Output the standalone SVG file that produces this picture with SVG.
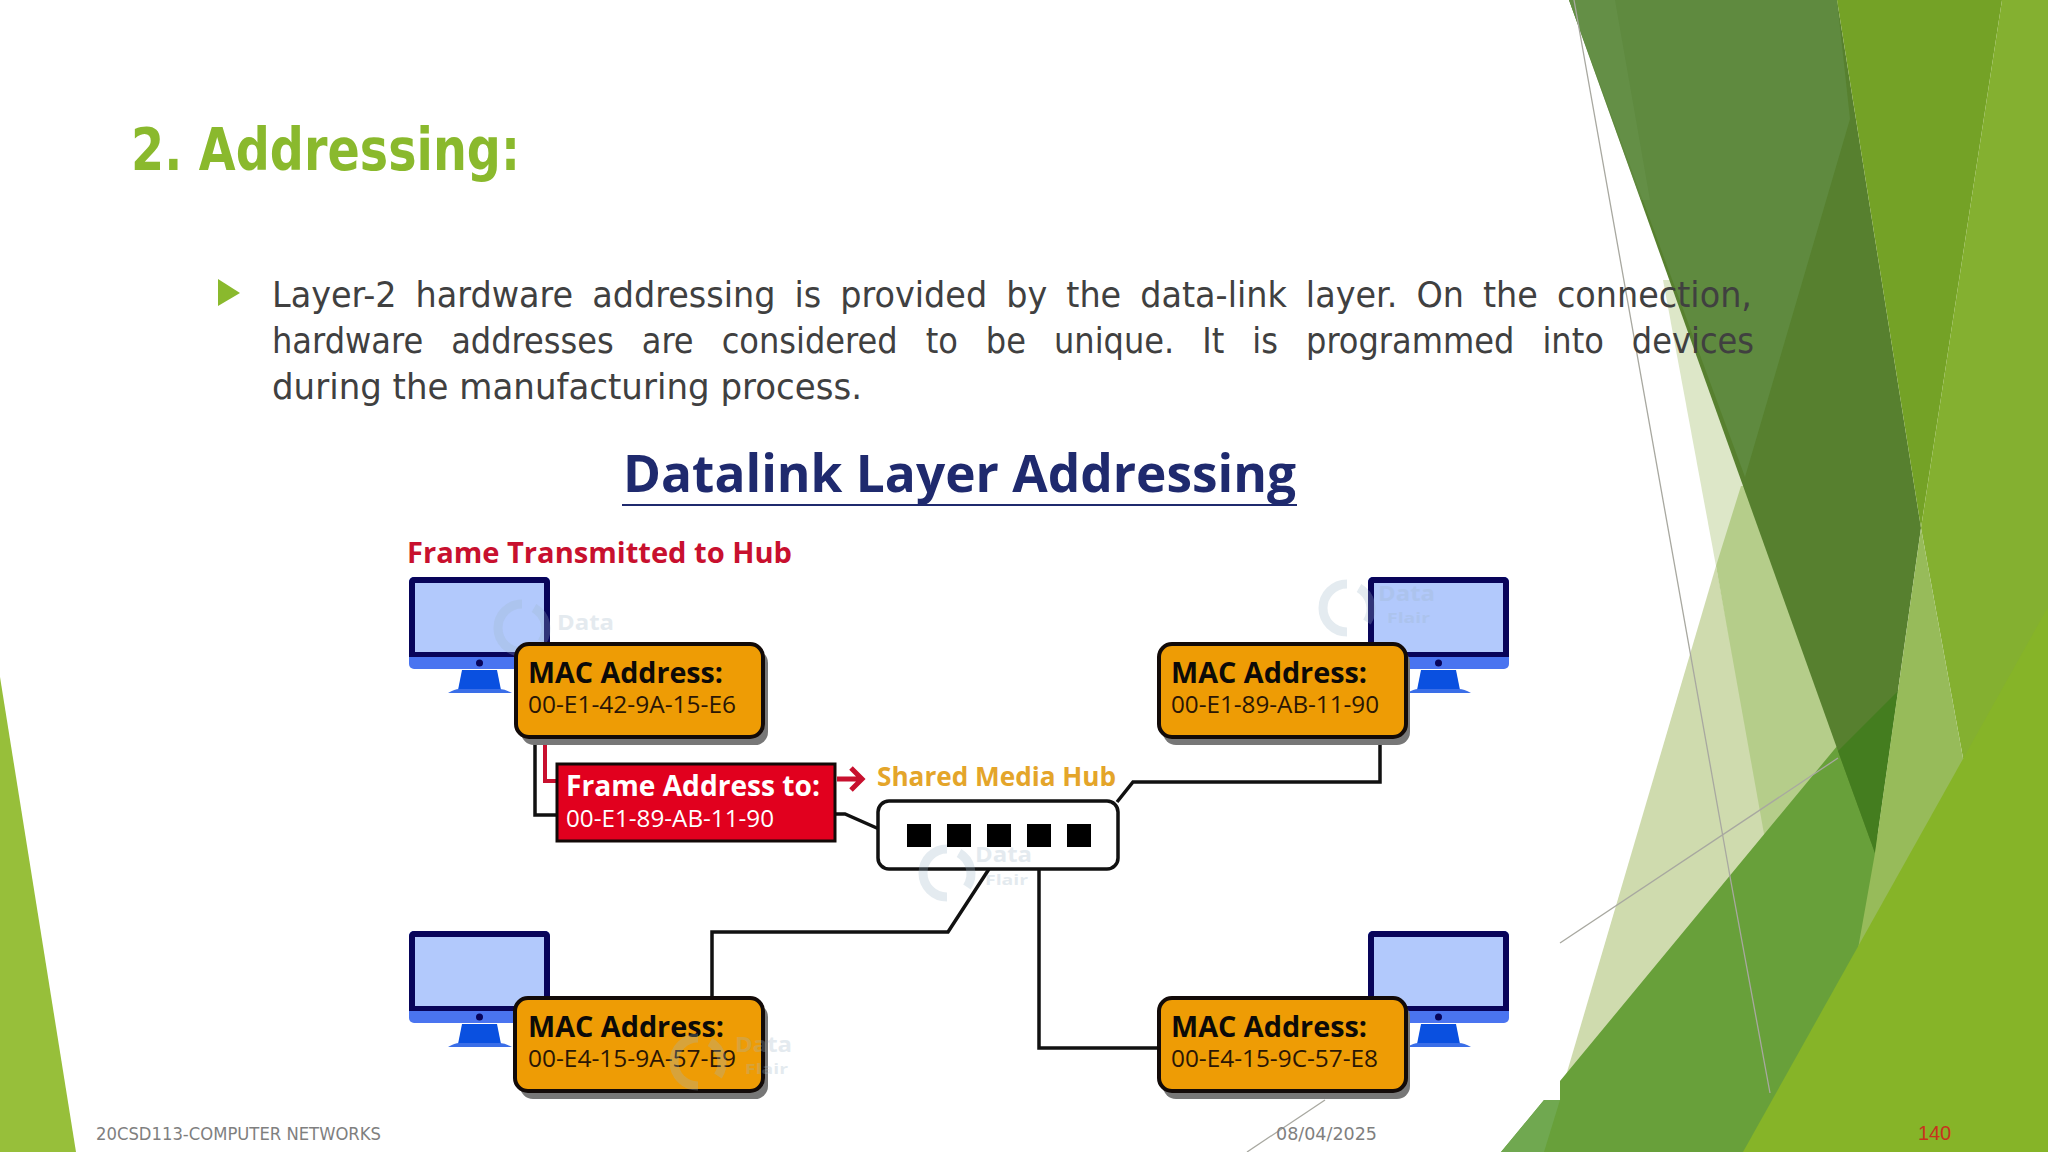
<svg xmlns="http://www.w3.org/2000/svg" xmlns:xlink="http://www.w3.org/1999/xlink" width="2048" height="1152" viewBox="0 0 2048 1152">
<style>
.body{font-family:"DejaVu Sans","Liberation Sans",sans-serif;font-size:36px;fill:#404040}
.foot{font-family:"DejaVu Sans","Liberation Sans",sans-serif;font-size:18px;fill:#7f7f7f}
.b{font-family:"Open Sans","Noto Sans",sans-serif;font-weight:700}
.m{font-family:"Open Sans","Noto Sans",sans-serif;font-weight:400}
.mac{font-size:28px;fill:#0c0a08}
.addr{font-size:24px;fill:#2a1605}
.box{fill:#ee9c05;stroke:#120a08;stroke-width:4}
.shadow{fill:#777}
.wire{fill:none;stroke:#111;stroke-width:3.5}
.wm{font-family:"Open Sans","Noto Sans",sans-serif;font-weight:700;fill:#9fb6c8;opacity:.28}
.wl{fill:none;stroke:#9fb6c8;stroke-width:9;opacity:.28}
.thin{fill:none;stroke:#a8a8a0;stroke-width:1.3}
</style>
<defs>
<g id="pc">
<rect x="0" y="0" width="141" height="92" rx="5" fill="#4a74f0"/>
<path d="M0 80V5a5 5 0 0 1 5-5H136a5 5 0 0 1 5 5V80Z" fill="#08045a"/>
<rect x="6" y="6" width="129" height="69" fill="#b2c9fc"/>
<path d="M53 93H88L92 113H49Z" fill="#0a50e0"/>
<path d="M39 116Q46 112 50 112H91Q96 112 103 116Z" fill="#3a6ee8"/>
<circle cx="70.500" cy="86" r="3.500" fill="#08045a"/>
</g>
<g id="logo">
<path class="wl" d="M0 -24A24 24 0 0 0 0 24"/>
<path class="wl" d="M12 -20A24 24 0 0 1 20 14"/>
</g>
</defs>
<rect width="2048" height="1152" fill="#fff"/>
<g id="decor">
<polygon points="0,677 0,1152 76,1152" fill="#97bf3a"/>
<polygon points="1663,280 1716,566 1770,486 1700,280" fill="#dde7c8"/>
<polygon points="1716,566 1770,850 1565,1079" fill="#cfdbae"/>
<polygon points="1741,486 1716,566 1766,845 1850,758 1770,486" fill="#b5cd8a"/>
<polygon points="1838,745 1885,853 1870,945 1760,1152 1501,1152 1544,1100 1560,1100 1560,1081" fill="#68a03a"/>
<polygon points="1569,0 1837,0 1921,528 1875,853 1838,751" fill="#57802f"/>
<polygon points="1569,0 1837,0 1850,119 1745,477" fill="#5f8a3f"/>
<polygon points="1569,0 1615,0 1650,200 1641,200" fill="#6a9450" opacity=".45"/>
<polygon points="1838,751 1898,691 1875,853" fill="#447d1f"/>
<polygon points="1837,0 2002,0 1921,528" fill="#74a226"/>
<polygon points="1544,1100 1560,1100 1544,1152 1501,1152" fill="#70a850"/>
<polygon points="2002,0 2048,0 2048,620 1970,770 1963,758 1921,528" fill="#84b030"/>
<polygon points="1921,528 1963,758 1970,770 1856,960 1875,853" fill="#97bb5a"/>
<polygon points="1743,1152 2048,607 2048,1152" fill="#86b428"/>
<path class="thin" d="M1574 0L1731 882L1770 1093"/>
<path class="thin" d="M1560 943L1838 758"/>
<path class="thin" d="M1325 1100L1247 1152"/>
</g>
<g id="slide-text">
<text id="title" x="131" y="170" font-family="DejaVu Sans,Liberation Sans,sans-serif" font-weight="700" font-size="58" fill="#8ab92d" textLength="389" lengthAdjust="spacingAndGlyphs">2. Addressing:</text>
<polygon points="218,279 240,293 218,306" fill="#8ab92d"/>
<text class="body" x="272" y="307" word-spacing="9" textLength="1480" lengthAdjust="spacingAndGlyphs">Layer-2 hardware addressing is provided by the data-link layer. On the connection,</text>
<text class="body" x="272" y="353" word-spacing="20" textLength="1482" lengthAdjust="spacingAndGlyphs">hardware addresses are considered to be unique. It is programmed into devices</text>
<text class="body" x="272" y="399" textLength="590" lengthAdjust="spacingAndGlyphs">during the manufacturing process.</text>
<text class="b" x="623" y="492" font-size="52" fill="#1f2a6e" textLength="673" lengthAdjust="spacingAndGlyphs">Datalink Layer Addressing</text>
<rect x="622" y="504" width="675" height="2" fill="#1f2a6e"/>
<text class="b" x="407" y="563" font-size="29" fill="#c8102e" textLength="385" lengthAdjust="spacingAndGlyphs">Frame Transmitted to Hub</text>
<text class="b" x="877" y="786" font-size="27" fill="#e4a52a" textLength="239" lengthAdjust="spacingAndGlyphs">Shared Media Hub</text>
<text class="foot" x="96" y="1140" textLength="285" lengthAdjust="spacingAndGlyphs">20CSD113-COMPUTER NETWORKS</text>
<text class="foot" x="1276" y="1140" textLength="101" lengthAdjust="spacingAndGlyphs">08/04/2025</text>
<text x="1918" y="1140" font-family="Liberation Sans,sans-serif" font-size="20" fill="#c8321e" textLength="33">140</text>
</g>
<g id="connectors">
<path class="wire" d="M535 737V815H558"/>
<path d="M545 737V781H558" fill="none" stroke="#c8102e" stroke-width="4"/>
<path d="M837 779H861M851 768L862 779L851 790" fill="none" stroke="#c8102e" stroke-width="5"/>
<path class="wire" d="M836 814H845L879 829"/>
<path class="wire" d="M1380 737V782H1133L1117 802"/>
<path class="wire" d="M712 997V932H948L989 869"/>
<path class="wire" d="M1039 869V1048H1158"/>
</g>
<g id="pc-top-left"><use xlink:href="#pc" href="#pc" x="409" y="577"/></g>
<g id="pc-top-right"><use xlink:href="#pc" href="#pc" x="1368" y="577"/></g>
<g id="pc-bottom-left"><use xlink:href="#pc" href="#pc" x="409" y="931"/></g>
<g id="pc-bottom-right"><use xlink:href="#pc" href="#pc" x="1368" y="931"/></g>
<g id="wm-top-left">
<use href="#logo" x="522" y="628"/>
<text class="wm" x="557" y="630" font-size="21" textLength="57" lengthAdjust="spacingAndGlyphs">Data</text>
</g>
<g id="wm-top-right">
<use href="#logo" x="1347" y="608"/>
<text class="wm" x="1378" y="601" font-size="21" textLength="57" lengthAdjust="spacingAndGlyphs">Data</text>
<text class="wm" x="1387" y="623" font-size="15" textLength="43" lengthAdjust="spacingAndGlyphs">Flair</text>
</g>
<g id="mac-top-left">
<rect class="shadow" x="521" y="650" width="247" height="95" rx="13"/>
<rect class="box" x="516" y="644" width="247" height="93" rx="13"/>
<text class="b mac" x="528" y="683" textLength="195" lengthAdjust="spacingAndGlyphs">MAC Address:</text>
<text class="m addr" x="528" y="713" textLength="208" lengthAdjust="spacingAndGlyphs">00-E1-42-9A-15-E6</text>
</g>
<g id="mac-top-right">
<rect class="shadow" x="1163" y="650" width="247" height="95" rx="13"/>
<rect class="box" x="1159" y="644" width="247" height="93" rx="13"/>
<text class="b mac" x="1171" y="683" textLength="196" lengthAdjust="spacingAndGlyphs">MAC Address:</text>
<text class="m addr" x="1171" y="713" textLength="208" lengthAdjust="spacingAndGlyphs">00-E1-89-AB-11-90</text>
</g>
<g id="frame-address">
<rect x="557" y="764" width="278" height="77" fill="#e1001e" stroke="#120a08" stroke-width="3"/>
<text class="b" x="566" y="796" font-size="28" fill="#fff" textLength="254" lengthAdjust="spacingAndGlyphs">Frame Address to:</text>
<text class="m" x="566" y="827" font-size="24" fill="#fff" textLength="208" lengthAdjust="spacingAndGlyphs">00-E1-89-AB-11-90</text>
</g>
<g id="hub">
<rect x="878" y="801" width="240" height="68" rx="11" fill="#fff" stroke="#111" stroke-width="3.500"/>
<rect x="907" y="824" width="24" height="23" fill="#000"/>
<rect x="947" y="824" width="24" height="23" fill="#000"/>
<rect x="987" y="824" width="24" height="23" fill="#000"/>
<rect x="1027" y="824" width="24" height="23" fill="#000"/>
<rect x="1067" y="824" width="24" height="23" fill="#000"/>
</g>
<g id="wm-hub">
<use href="#logo" x="947" y="873"/>
<text class="wm" x="975" y="862" font-size="21" textLength="57" lengthAdjust="spacingAndGlyphs">Data</text>
<text class="wm" x="985" y="885" font-size="15" textLength="43" lengthAdjust="spacingAndGlyphs">Flair</text>
</g>
<g id="mac-bottom-left">
<rect class="shadow" x="520" y="1004" width="248" height="95" rx="13"/>
<rect class="box" x="515" y="998" width="248" height="93" rx="13"/>
<text class="b mac" x="528" y="1037" textLength="196" lengthAdjust="spacingAndGlyphs">MAC Address:</text>
<text class="m addr" x="528" y="1067" textLength="208" lengthAdjust="spacingAndGlyphs">00-E4-15-9A-57-E9</text>
<use href="#logo" x="698" y="1062"/>
<text class="wm" x="735" y="1052" font-size="21" textLength="57" lengthAdjust="spacingAndGlyphs">Data</text>
<text class="wm" x="745" y="1074" font-size="15" textLength="43" lengthAdjust="spacingAndGlyphs">Flair</text>
</g>
<g id="mac-bottom-right">
<rect class="shadow" x="1163" y="1004" width="247" height="95" rx="13"/>
<rect class="box" x="1159" y="998" width="247" height="93" rx="13"/>
<text class="b mac" x="1171" y="1037" textLength="196" lengthAdjust="spacingAndGlyphs">MAC Address:</text>
<text class="m addr" x="1171" y="1067" textLength="207" lengthAdjust="spacingAndGlyphs">00-E4-15-9C-57-E8</text>
</g>
</svg>
